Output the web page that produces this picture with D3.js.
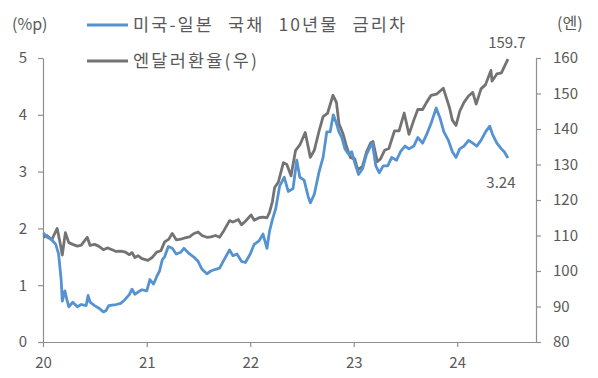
<!DOCTYPE html>
<html>
<head>
<meta charset="utf-8">
<script src="https://cdn.jsdelivr.net/npm/d3@7"></script>
<style>
  html, body { margin: 0; padding: 0; background: #fff; }
  svg text { font-family: "Noto Sans CJK KR", "Noto Sans", sans-serif; fill: #595959; }
</style>
</head>
<body>
<svg id="chart" width="598" height="378"></svg>
<script>
// US-Japan 10Y government bond yield spread (%p), left axis
const spreadDates = ["2020-01-02","2020-01-15","2020-02-01","2020-02-15","2020-02-25","2020-03-05","2020-03-09","2020-03-18","2020-03-25","2020-04-01","2020-04-15","2020-05-01","2020-05-15","2020-06-01","2020-06-08","2020-06-15","2020-07-01","2020-07-15","2020-08-01","2020-08-10","2020-08-20","2020-09-01","2020-09-15","2020-10-01","2020-10-15","2020-11-01","2020-11-10","2020-11-20","2020-12-01","2020-12-15","2021-01-01","2021-01-12","2021-01-25","2021-02-05","2021-02-15","2021-02-25","2021-03-05","2021-03-18","2021-04-01","2021-04-15","2021-05-01","2021-05-12","2021-06-01","2021-06-15","2021-07-01","2021-07-15","2021-08-01","2021-08-15","2021-09-01","2021-09-15","2021-10-01","2021-10-20","2021-11-01","2021-11-15","2021-12-01","2021-12-15","2022-01-01","2022-01-15","2022-02-01","2022-02-15","2022-03-01","2022-03-10","2022-03-20","2022-04-01","2022-04-15","2022-05-01","2022-05-15","2022-06-01","2022-06-14","2022-06-25","2022-07-10","2022-07-25","2022-08-01","2022-08-15","2022-09-01","2022-09-15","2022-09-28","2022-10-10","2022-10-21","2022-11-01","2022-11-10","2022-11-20","2022-12-01","2022-12-15","2022-12-25","2023-01-05","2023-01-18","2023-02-01","2023-02-15","2023-03-01","2023-03-08","2023-03-20","2023-04-01","2023-04-15","2023-05-01","2023-05-15","2023-06-01","2023-06-15","2023-07-01","2023-07-15","2023-08-01","2023-08-15","2023-09-01","2023-09-15","2023-10-01","2023-10-19","2023-11-01","2023-11-15","2023-12-01","2023-12-15","2023-12-28","2024-01-10","2024-01-25","2024-02-10","2024-02-25","2024-03-10","2024-03-25","2024-04-10","2024-04-25","2024-05-05","2024-05-20","2024-06-05","2024-06-15","2024-06-28"];
const spreadValues = [1.92,1.85,1.80,1.72,1.55,1.10,0.72,0.90,0.75,0.62,0.70,0.62,0.66,0.64,0.82,0.70,0.64,0.60,0.53,0.55,0.64,0.65,0.66,0.68,0.74,0.84,0.93,0.84,0.88,0.92,0.90,1.10,1.02,1.15,1.25,1.45,1.50,1.68,1.65,1.55,1.58,1.65,1.55,1.50,1.42,1.28,1.20,1.25,1.28,1.30,1.45,1.62,1.52,1.55,1.42,1.40,1.55,1.72,1.78,1.90,1.65,1.95,2.15,2.35,2.75,2.90,2.65,2.70,3.20,2.90,2.85,2.55,2.45,2.60,3.00,3.25,3.70,3.70,4.00,3.85,3.70,3.60,3.40,3.30,3.35,3.15,2.95,3.05,3.30,3.45,3.50,3.10,2.98,3.10,3.10,3.25,3.20,3.35,3.45,3.40,3.45,3.60,3.50,3.65,3.85,4.12,3.95,3.70,3.55,3.35,3.25,3.40,3.45,3.55,3.50,3.45,3.55,3.70,3.80,3.65,3.50,3.40,3.35,3.24];

// USD/JPY exchange rate (yen), right axis
const fxDates = ["2020-01-02","2020-01-15","2020-02-01","2020-02-20","2020-03-01","2020-03-09","2020-03-20","2020-04-01","2020-04-15","2020-05-01","2020-05-15","2020-06-05","2020-06-15","2020-07-01","2020-07-15","2020-08-01","2020-08-15","2020-09-01","2020-09-15","2020-10-01","2020-10-15","2020-11-01","2020-11-10","2020-11-20","2020-12-01","2020-12-15","2021-01-05","2021-01-20","2021-02-05","2021-02-20","2021-03-05","2021-03-20","2021-04-01","2021-04-15","2021-05-01","2021-05-15","2021-06-01","2021-06-15","2021-07-01","2021-07-15","2021-08-01","2021-08-15","2021-09-01","2021-09-15","2021-10-01","2021-10-20","2021-11-01","2021-11-20","2021-12-01","2021-12-15","2022-01-04","2022-01-15","2022-02-01","2022-02-15","2022-03-01","2022-03-10","2022-03-20","2022-03-28","2022-04-10","2022-04-28","2022-05-10","2022-05-25","2022-06-10","2022-06-25","2022-07-14","2022-08-01","2022-08-15","2022-09-01","2022-09-15","2022-10-01","2022-10-20","2022-11-01","2022-11-10","2022-11-25","2022-12-05","2022-12-20","2023-01-05","2023-01-15","2023-02-01","2023-02-15","2023-03-01","2023-03-10","2023-03-25","2023-04-05","2023-04-20","2023-05-05","2023-05-25","2023-06-10","2023-06-28","2023-07-15","2023-08-01","2023-08-15","2023-09-01","2023-09-15","2023-10-01","2023-10-20","2023-11-13","2023-11-25","2023-12-05","2023-12-15","2023-12-28","2024-01-10","2024-01-25","2024-02-10","2024-02-25","2024-03-08","2024-03-25","2024-04-10","2024-04-29","2024-05-03","2024-05-20","2024-06-05","2024-06-15","2024-06-28"];
const fxValues = [109.5,110.0,108.8,112.0,108.0,104.5,110.8,108.0,107.5,107.0,107.3,109.5,107.2,107.5,107.0,106.0,106.5,106.0,105.5,105.6,105.4,104.6,105.2,103.8,104.3,103.5,103.0,103.8,105.3,105.7,108.2,109.0,110.6,108.8,109.0,109.3,109.6,110.5,111.0,110.0,109.5,109.6,110.0,109.5,111.5,114.2,113.8,114.5,113.0,114.0,115.8,114.3,115.0,115.2,115.0,116.5,119.5,123.5,125.0,130.5,130.0,126.8,134.0,135.5,139.0,132.0,134.0,139.5,143.5,144.5,149.5,147.5,141.5,138.5,135.5,132.0,131.5,128.5,129.5,133.5,136.0,136.5,130.8,131.5,134.0,134.5,139.5,139.5,144.5,138.5,142.5,145.5,145.5,147.5,149.5,149.8,151.5,148.5,146.0,142.5,141.0,145.0,147.5,149.3,150.3,147.0,151.3,152.5,156.5,153.5,155.5,155.8,157.5,159.7];

// Axis ticks
const yearTicks = ["2020-01-01","2021-01-01","2022-01-01","2023-01-01","2024-01-01"];
const yearLabels = ["20","21","22","23","24"];
const leftTicks = [0,1,2,3,4,5];
const rightTicks = [80,90,100,110,120,130,140,150,160];

const seriesNames = ["미국-일본 국채 10년물 금리차", "엔달러환율(우)"];
const colors = { spread: "#5592d2", fx: "#737373", axis: "#8f8f8f" };

const parse = d3.timeParse("%Y-%m-%d");
const spread = spreadDates.map((d, i) => ({ date: parse(d), value: spreadValues[i] }));
const fx = fxDates.map((d, i) => ({ date: parse(d), value: fxValues[i] }));

const svg = d3.select("#chart");
const plot = { left: 43, right: 536, top: 58, bottom: 342 };

const x = d3.scaleTime()
  .domain([parse("2020-01-01"), parse("2024-10-05")])
  .range([plot.left, plot.right]);
const yL = d3.scaleLinear().domain([0, 5]).range([plot.bottom, plot.top]);
const yR = d3.scaleLinear().domain([80, 160]).range([plot.bottom, plot.top]);

function styleAxis(g) {
  g.select(".domain").attr("stroke", colors.axis).attr("stroke-width", 1.2);
  g.selectAll(".tick line").attr("stroke", colors.axis).attr("stroke-width", 1.2);
  g.selectAll(".tick text").attr("fill", "#595959").style("font-size", "15px");
}

// Left axis
svg.append("g")
  .attr("transform", `translate(${plot.left},0)`)
  .call(d3.axisLeft(yL).tickValues(leftTicks).tickSize(5).tickPadding(11).tickSizeOuter(0).tickFormat(d3.format("d")))
  .call(styleAxis);

// Right axis
svg.append("g")
  .attr("transform", `translate(${plot.right},0)`)
  .call(d3.axisRight(yR).tickValues(rightTicks).tickSize(5).tickPadding(12).tickSizeOuter(0).tickFormat(d3.format("d")))
  .call(styleAxis);

// Bottom axis
svg.append("g")
  .attr("transform", `translate(0,${plot.bottom})`)
  .call(d3.axisBottom(x).tickValues(yearTicks.map(parse)).tickSize(5).tickPadding(10).tickSizeOuter(0)
    .tickFormat((d, i) => yearLabels[i]))
  .call(styleAxis);

// Lines
const lineL = d3.line().x(d => x(d.date)).y(d => yL(d.value));
const lineR = d3.line().x(d => x(d.date)).y(d => yR(d.value));

svg.append("path").datum(fx)
  .attr("fill", "none").attr("stroke", colors.fx).attr("stroke-width", 2.8)
  .attr("stroke-linejoin", "round").attr("d", lineR);
svg.append("path").datum(spread)
  .attr("fill", "none").attr("stroke", colors.spread).attr("stroke-width", 2.8)
  .attr("stroke-linejoin", "round").attr("d", lineL);

// Unit labels
svg.append("text").attr("x", 12).attr("y", 24).attr("dy", "0.35em")
  .style("font-size", "16px").text("(%p)");
svg.append("text").attr("x", 557).attr("y", 23).attr("dy", "0.35em")
  .style("font-size", "16px").text("(엔)");

// Legend
const legend = [
  { name: seriesNames[0], color: colors.spread, y: 25, len: 272 },
  { name: seriesNames[1], color: colors.fx, y: 61, len: 124 }
];
legend.forEach(l => {
  svg.append("line").attr("x1", 87).attr("x2", 128).attr("y1", l.y).attr("y2", l.y)
    .attr("stroke", l.color).attr("stroke-width", 2.8);
  svg.append("text").attr("x", 133).attr("y", l.y).attr("dy", "0.35em")
    .attr("textLength", l.len).attr("lengthAdjust", "spacing")
    .style("font-size", "17.5px").style("word-spacing", "8px").text(l.name);
});

// End-value labels
const lastFx = fx[fx.length - 1];
const lastSpread = spread[spread.length - 1];
svg.append("text").attr("x", x(lastFx.date) - 1).attr("y", yR(lastFx.value) - 16)
  .attr("text-anchor", "middle").attr("dy", "0.35em").style("font-size", "15px")
  .text(d3.format(".1f")(lastFx.value));
svg.append("text").attr("x", x(lastSpread.date) - 7).attr("y", yL(lastSpread.value) + 25)
  .attr("text-anchor", "middle").attr("dy", "0.35em").style("font-size", "15px")
  .text(d3.format(".2f")(lastSpread.value));
</script>
</body>
</html>
